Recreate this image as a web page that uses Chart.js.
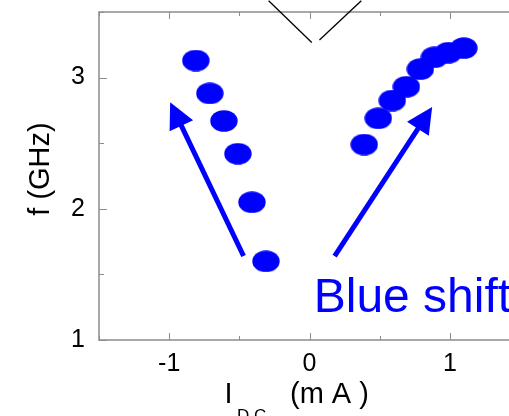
<!DOCTYPE html>
<html>
<head>
<meta charset="utf-8">
<script src="https://cdn.jsdelivr.net/npm/chart.js@4/dist/chart.umd.min.js"></script>
<style>
  html, body { margin: 0; padding: 0; overflow: hidden; background: #fff; }
</style>
</head>
<body>
<canvas id="chart" width="530" height="416"></canvas>
<script>
// Data
const negCurrent = [-0.81, -0.71, -0.61, -0.51, -0.41, -0.31];
const negFreq = [3.13, 2.88, 2.67, 2.42, 2.05, 1.60];
const posCurrent = [0.39, 0.49, 0.59, 0.69, 0.79, 0.89, 0.99, 1.10];
const posFreq = [2.49, 2.69, 2.825, 2.93, 3.065, 3.155, 3.19, 3.225];
const xTickValues = [-1, 0, 1];
const yTickValues = [1, 2, 3];
const xMinorValues = [-1.5, -1, -0.5, 0, 0.5, 1, 1.5];
const yMinorValues = [1, 1.5, 2, 2.5, 3, 3.5];

// Annotations (data coords)
const arrows = [
  { from: [-0.47, 1.64], to: [-0.993, 2.812] },
  { from: [0.179, 1.64], to: [0.874, 2.776] }
];
const vLines = [
  [[-0.291, 3.586], [0.016, 3.268]],
  [[0.071, 3.287], [0.369, 3.586]]
];
const shiftLabel = { text: "Blue shift", x: 0.03, y: 1.213 };

const BLUE = "#0000ff";
const FONT = "'Liberation Sans', Arial, sans-serif";

// Elliptical marker
function makeDot() {
  const c = document.createElement("canvas");
  c.width = 28;
  c.height = 22;
  const g = c.getContext("2d");
  g.fillStyle = BLUE;
  g.beginPath();
  g.ellipse(14, 11, 13.7, 10.8, 0, 0, Math.PI * 2);
  g.fill();
  return c;
}
const dot = makeDot();

function toPoints(xs, ys) {
  return xs.map((x, i) => ({ x: x, y: ys[i] }));
}

// Frame, inner ticks, arrows, labels
const extras = {
  id: "extras",
  beforeDatasetsDraw(chart) {
    const ctx = chart.ctx;
    const xs = chart.scales.x;
    const ys = chart.scales.y;
    const area = chart.chartArea;

    // frame (left, bottom, top)
    ctx.save();
    ctx.strokeStyle = "#8c8c8c";
    ctx.lineWidth = 1.5;
    ctx.beginPath();
    ctx.moveTo(area.right, area.top);
    ctx.lineTo(area.left, area.top);
    ctx.lineTo(area.left, area.bottom);
    ctx.lineTo(area.right, area.bottom);
    ctx.stroke();

    // tick marks
    ctx.lineWidth = 1;
    ctx.beginPath();
    xMinorValues.forEach(v => {
      const px = Math.round(xs.getPixelForValue(v)) + 0.5;
      const len = Number.isInteger(v) ? 7 : 4;
      ctx.moveTo(px, area.bottom);
      ctx.lineTo(px, area.bottom - len);
      ctx.moveTo(px, area.top);
      ctx.lineTo(px, area.top + len);
    });
    yMinorValues.forEach(v => {
      const py = Math.round(ys.getPixelForValue(v)) + 0.5;
      const len = Number.isInteger(v) ? 8 : 5;
      ctx.moveTo(area.left, py);
      ctx.lineTo(area.left + len, py);
    });
    ctx.stroke();

    // arrows
    ctx.strokeStyle = BLUE;
    ctx.fillStyle = BLUE;
    arrows.forEach(a => {
      const x1 = xs.getPixelForValue(a.from[0]);
      const y1 = ys.getPixelForValue(a.from[1]);
      const x2 = xs.getPixelForValue(a.to[0]);
      const y2 = ys.getPixelForValue(a.to[1]);
      const d = Math.hypot(x2 - x1, y2 - y1);
      const ux = (x2 - x1) / d, uy = (y2 - y1) / d;
      const headLen = 26, half = 13;
      const bx = x2 - ux * headLen, by = y2 - uy * headLen;
      ctx.lineWidth = 5;
      ctx.beginPath();
      ctx.moveTo(x1, y1);
      ctx.lineTo(bx + ux * 2, by + uy * 2);
      ctx.stroke();
      ctx.beginPath();
      ctx.moveTo(x2, y2);
      ctx.lineTo(bx - uy * half, by + ux * half);
      ctx.lineTo(bx + uy * half, by - ux * half);
      ctx.closePath();
      ctx.fill();
    });

    // black V lines at top
    ctx.strokeStyle = "#000";
    ctx.lineWidth = 1.3;
    vLines.forEach(l => {
      ctx.beginPath();
      ctx.moveTo(xs.getPixelForValue(l[0][0]), ys.getPixelForValue(l[0][1]));
      ctx.lineTo(xs.getPixelForValue(l[1][0]), ys.getPixelForValue(l[1][1]));
      ctx.stroke();
    });

    // "Blue shift"
    ctx.fillStyle = BLUE;
    ctx.font = "48px " + FONT;
    ctx.textAlign = "left";
    ctx.textBaseline = "alphabetic";
    ctx.fillText(shiftLabel.text, xs.getPixelForValue(shiftLabel.x), ys.getPixelForValue(shiftLabel.y));

    // axis titles
    ctx.fillStyle = "#000";
    ctx.font = "29px " + FONT;
    ctx.fillText("I", 224.5, 403);
    ctx.font = "17px " + FONT;
    ctx.fillText("D C", 237, 421);
    ctx.font = "29px " + FONT;
    ctx.fillText("(m A )", 290, 403);

    ctx.translate(49, (area.top + area.bottom) / 2 - 7);
    ctx.rotate(-Math.PI / 2);
    ctx.textAlign = "center";
    ctx.fillText("f (GHz)", 0, 0);
    ctx.restore();
  }
};

new Chart(document.getElementById("chart").getContext("2d"), {
  type: "scatter",
  data: {
    datasets: [
      {
        data: toPoints(negCurrent, negFreq),
        pointStyle: dot,
        backgroundColor: BLUE,
        borderColor: BLUE
      },
      {
        data: toPoints(posCurrent, posFreq),
        pointStyle: dot,
        backgroundColor: BLUE,
        borderColor: BLUE
      }
    ]
  },
  options: {
    responsive: false,
    animation: false,
    layout: { padding: { top: 12, right: 10, left: 0, bottom: 0 } },
    plugins: {
      legend: { display: false },
      tooltip: { enabled: false }
    },
    scales: {
      x: {
        type: "linear",
        min: -1.5,
        max: 1.5,
        grid: { display: false, drawTicks: false },
        border: { display: false },
        afterBuildTicks: scale => { scale.ticks = xTickValues.map(v => ({ value: v })); },
        afterFit: scale => {
          scale.height = 76;
          scale.paddingLeft = 0;
          scale.paddingRight = 0;
        },
        ticks: {
          color: "#000",
          padding: 9,
          maxRotation: 0,
          font: { family: FONT, size: 25 }
        }
      },
      y: {
        type: "linear",
        min: 1,
        max: 3.5,
        grid: { display: false, drawTicks: false },
        border: { display: false },
        afterBuildTicks: scale => { scale.ticks = yTickValues.map(v => ({ value: v })); },
        afterFit: scale => {
          scale.width = 99;
          scale.paddingTop = 0;
          scale.paddingBottom = 0;
        },
        ticks: {
          color: "#000",
          padding: 14,
          font: { family: FONT, size: 25 }
        }
      }
    }
  },
  plugins: [extras]
});
</script>
</body>
</html>
